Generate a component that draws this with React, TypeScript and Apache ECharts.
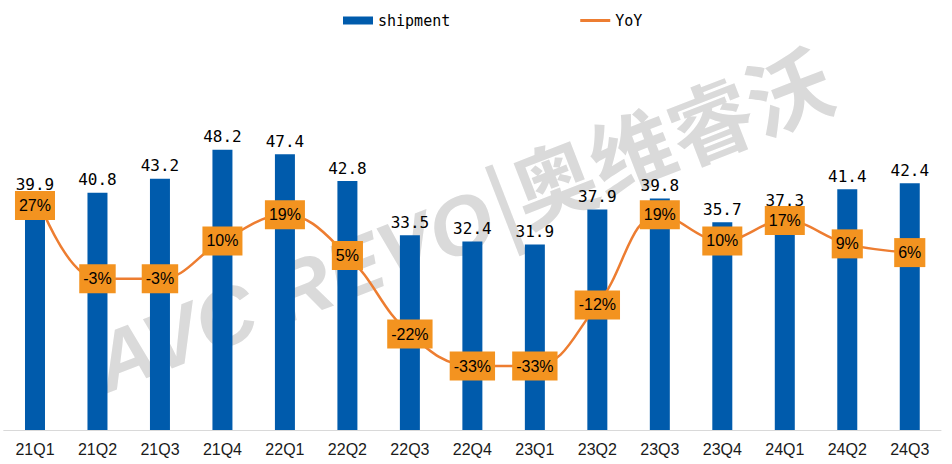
import React, { useEffect, useRef } from "react";
import * as echarts from "echarts";

const categories = ["21Q1", "21Q2", "21Q3", "21Q4", "22Q1", "22Q2", "22Q3", "22Q4", "23Q1", "23Q2", "23Q3", "23Q4", "24Q1", "24Q2", "24Q3"];
const shipment = [39.9, 40.8, 43.2, 48.2, 47.4, 42.8, 33.5, 32.4, 31.9, 37.9, 39.8, 35.7, 37.3, 41.4, 42.4];
const yoy = [27, -3, -3, 10, 19, 5, -22, -33, -33, -12, 19, 10, 17, 9, 6];

export default function App() {
  const ref = useRef<HTMLDivElement>(null);
  useEffect(() => {
    document.body.style.margin = "0";
    const chart = echarts.init(ref.current!, null, { renderer: "svg" });
    chart.setOption({
      animation: false,
      backgroundColor: "#ffffff",
      legend: {
        left: 338,
        top: 8,
        itemWidth: 30,
        itemHeight: 8,
        itemGap: 130,
        textStyle: { fontFamily: "DejaVu Sans Mono", fontSize: 15, color: "#000" },
        data: [
          { name: "shipment", icon: "rect" },
          { name: "YoY", icon: "path://M0,0 H30 V3 H0 Z" },
        ],
      },
      graphic: [
        {
          type: "text",
          x: 112,
          y: 405,
          rotation: 0.37,
          z: -10,
          silent: true,
          style: {
            text: "AVC REVO",
            fill: "#dadada",
            font: "italic bold 82px 'Liberation Sans'",
            textAlign: "left",
            textVerticalAlign: "bottom",
          },
        },
        {
          type: "text",
          x: 505,
          y: 242,
          rotation: 0.37,
          z: -10,
          silent: true,
          style: {
            text: "|奥维睿沃",
            fill: "#dadada",
            font: "bold 84px 'Noto Sans CJK SC'",
            textAlign: "left",
            textVerticalAlign: "bottom",
          },
        },
      ],
      grid: { left: 3.75, right: 11, top: 81, bottom: 34 },
      xAxis: {
        type: "category",
        data: categories,
        axisTick: { show: false },
        axisLine: { lineStyle: { color: "#d9d9d9", width: 1 } },
        axisLabel: {
          color: "#1a1a1a",
          fontFamily: "Liberation Sans",
          fontSize: 16,
          margin: 11,
        },
      },
      yAxis: [
        { type: "value", min: 0, max: 60, show: false, splitLine: { show: false } },
        { type: "value", min: -55, max: 65, show: false, splitLine: { show: false } },
      ],
      series: [
        {
          name: "shipment",
          type: "bar",
          data: shipment,
          barWidth: 20,
          itemStyle: { color: "#005bac" },
          label: {
            show: true,
            position: "top",
            distance: 5,
            color: "#000",
            fontFamily: "DejaVu Sans Mono",
            fontSize: 16,
          },
        },
        {
          name: "YoY",
          type: "line",
          yAxisIndex: 1,
          smooth: 0.4,
          data: yoy.map((v, i) =>
            i === 0 ? { value: v, label: { offset: [0, 14] } } : { value: v }
          ),
          symbol: "circle",
          symbolSize: 1,
          lineStyle: { color: "#ed7d31", width: 2.5 },
          itemStyle: { color: "#ed7d31" },
          label: {
            show: true,
            position: "inside",
            formatter: (p: any) => `${p.value}%`,
            color: "#000",
            fontFamily: "Liberation Sans",
            fontSize: 16,
            lineHeight: 19,
            backgroundColor: "#f39320",
            padding: [5, 4, 5, 4],
          },
        },
      ],
    });
    return () => chart.dispose();
  }, []);
  return <div ref={ref} style={{ width: 952, height: 464 }} />;
}
